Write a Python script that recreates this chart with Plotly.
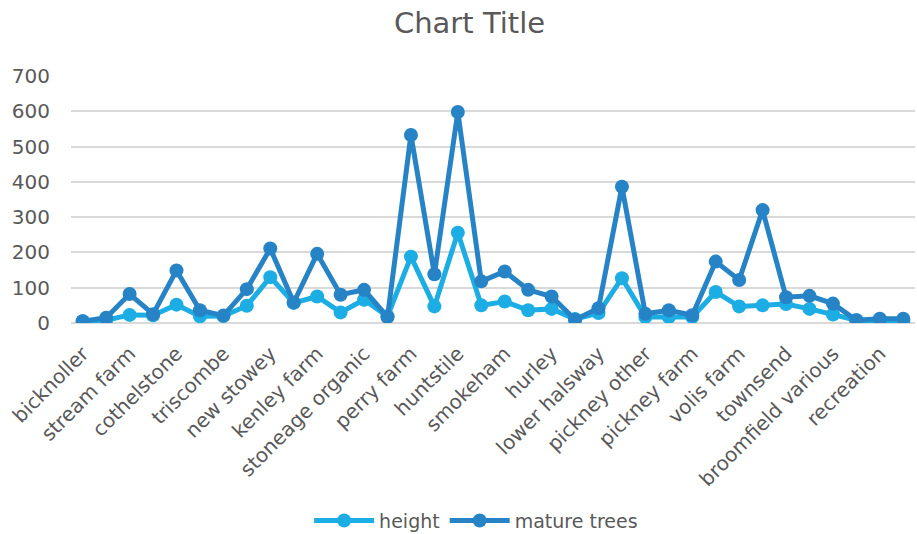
import plotly.graph_objects as go

# Labels shown on every other category position
tick_labels = [
    "bicknoller", "stream farm", "cothelstone", "triscombe", "new stowey",
    "kenley farm", "stoneage organic", "perry farm", "huntstile", "smokeham",
    "hurley", "lower halsway", "pickney other", "pickney farm", "volis farm",
    "townsend", "broomfield various", "recreation",
]

height = [
    5, 8, 23, 22, 52, 19, 20, 49, 130, 57, 75, 30, 66, 19, 188, 47, 256, 50,
    61, 36, 40, 11, 28, 127, 17, 17, 17, 88, 47, 50, 54, 40, 24, 8, 3, 5,
]

mature_trees = [
    5, 15, 82, 25, 149, 36, 21, 96, 211, 58, 196, 80, 94, 17, 533, 138, 598, 118,
    146, 94, 75, 9, 42, 386, 26, 36, 22, 174, 122, 320, 73, 77, 55, 8, 12, 12,
]

positions = list(range(len(height)))
tick_positions = positions[::2]

FONT = "DejaVu Sans"
GREY = "#595959"

fig = go.Figure()
fig.add_trace(go.Scatter(
    x=positions, y=height, name="height", mode="lines+markers",
    line=dict(color="#1CADE4", width=5),
    marker=dict(color="#1CADE4", size=14),
))
fig.add_trace(go.Scatter(
    x=positions, y=mature_trees, name="mature trees", mode="lines+markers",
    line=dict(color="#2683C6", width=5),
    marker=dict(color="#2683C6", size=14),
))

fig.update_layout(
    width=917, height=534,
    margin=dict(l=71, r=2, t=76, b=211, autoexpand=False),
    paper_bgcolor="white", plot_bgcolor="white",
    font=dict(family=FONT, color=GREY),
    title=dict(text="Chart Title", x=0.512, xanchor="center", y=0.958, yanchor="middle",
               font=dict(size=29, color=GREY, family=FONT)),
    showlegend=True,
    legend=dict(orientation="h", x=0.48, xanchor="center",
                yref="container", y=0.025, yanchor="middle",
                font=dict(size=19, color=GREY), itemwidth=60),
    xaxis=dict(
        range=[-0.5, len(positions) - 0.5], automargin=False,
        tickmode="array", tickvals=tick_positions, ticktext=tick_labels,
        tickangle=-45, tickfont=dict(size=20, color=GREY),
        showgrid=False, zeroline=False, showline=False, ticks="",
        ticklabelstandoff=14,
    ),
    yaxis=dict(
        range=[0, 700], dtick=100, automargin=False,
        tickfont=dict(size=20, color=GREY),
        gridcolor="#D9D9D9", gridwidth=1.5,
        zeroline=True, zerolinecolor="#D9D9D9", zerolinewidth=1.5,
        showline=False, ticks="", ticklabelstandoff=20,
    ),
)

fig.write_html("out.html")
